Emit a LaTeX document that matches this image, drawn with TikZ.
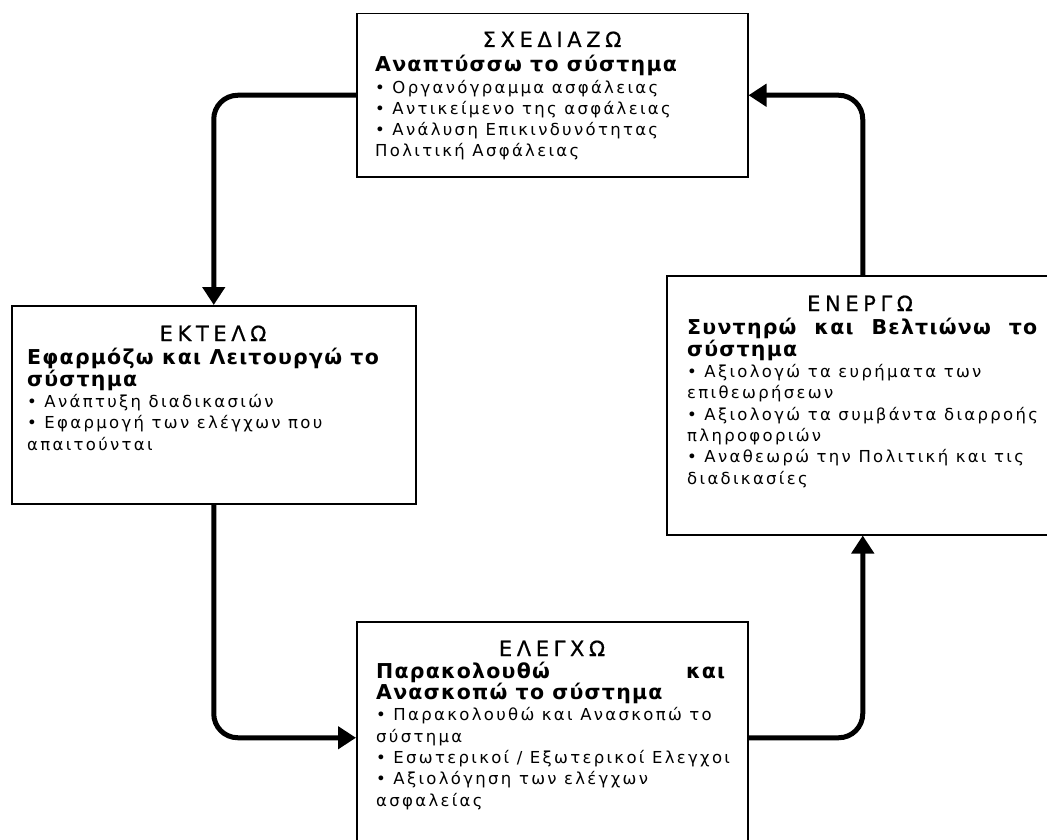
\documentclass[tikz,border=0pt]{standalone}
\usepackage{fontspec}
\setmainfont{DejaVu Sans}
\newfontfamily\headfont[LetterSpace=22,FakeBold=0.6]{DejaVu Sans}
\newfontfamily\leadfont[LetterSpace=6]{DejaVu Sans}
\newfontfamily\itemfont[LetterSpace=14]{DejaVu Sans}
\usetikzlibrary{arrows.meta}

\newcommand{\lead}[1]{{\leadfont\bfseries\fontsize{20.5}{21.3}\selectfont #1}}

\tikzset{
  panel/.style={draw=black, line width=1.5pt, fill=white, inner sep=0pt,
    anchor=north west},
  heading/.style={anchor=base, inner sep=0pt,
    font=\headfont\fontsize{21}{24}\selectfont},
  % the base anchor of a multi-line text sits on its last line
  body/.style={anchor=base west, inner sep=0pt, align=left,
    font=\itemfont\fontsize{16.5}{21.3}\selectfont},
  flow/.style={draw=black, line width=5pt, rounded corners=24pt,
    -{Triangle[width=22pt,length=18pt]}},
}

\begin{document}
\begin{tikzpicture}[x=1pt, y=-1pt]
\path[use as bounding box, clip] (0,0) rectangle (1047,840);
\fill[white] (0,0) rectangle (1047,840);

% the four stages of the cycle
\node[panel, minimum width=391pt, minimum height=163pt] (plan)  at (356,13)  {};
\node[panel, minimum width=404pt, minimum height=198pt] (do)    at (11,305)  {};
\node[panel, minimum width=392pt, minimum height=259pt] (act)   at (666,275) {};
\node[panel, minimum width=391pt, minimum height=232pt] (check) at (356,621) {};

% Plan
\node[heading] (planhead) at (552,47) {ΣΧΕΔΙΑΖΩ};
\node[body] (planbody) at (375,157) {\lead{Αναπτύσσω το σύστημα}\\
  • Οργανόγραμμα ασφάλειας\\
  • Αντικείμενο της ασφάλειας\\
  • Ανάλυση Επικινδυνότητας\\
  Πολιτική Ασφάλειας};

% Do
\node[heading] (dohead) at (213,341) {ΕΚΤΕΛΩ};
\node[body] (dobody) at (27,450) {\lead{Εφαρμόζω και Λειτουργώ το}\\
  \lead{σύστημα}\\
  • Ανάπτυξη διαδικασιών\\
  • Εφαρμογή των ελέγχων που\\
  απαιτούνται};

% Act
\node[heading] (acthead) at (860,311) {ΕΝΕΡΓΩ};
\node[body] (actbody) at (687,484) {\lead{\makebox[350pt][s]{Συντηρώ και Βελτιώνω το}}\\
  \lead{σύστημα}\\
  • Αξιολογώ τα ευρήματα των\\
  επιθεωρήσεων\\
  • Αξιολογώ τα συμβάντα διαρροής\\
  πληροφοριών\\
  • Αναθεωρώ την Πολιτική και τις\\
  διαδικασίες};

% Check
\node[heading] (checkhead) at (552,656) {ΕΛΕΓΧΩ};
\node[body] (checkbody) at (376,806) {\lead{\makebox[349pt][l]{Παρακολουθώ\hfill και}}\\
  \lead{Ανασκοπώ το σύστημα}\\
  • Παρακολουθώ και Ανασκοπώ το\\
  σύστημα\\
  • Εσωτερικοί / Εξωτερικοί Ελεγχοι\\
  • Αξιολόγηση των ελέγχων\\
  ασφαλείας};

% the cycle arrows
\draw[flow] (plan.west) -| (do.north);
\draw[flow] (do.south) |- (check.west);
\draw[flow] (check.east) -| (act.south);
\draw[flow] (act.north) |- (plan.east);
\end{tikzpicture}
\end{document}
